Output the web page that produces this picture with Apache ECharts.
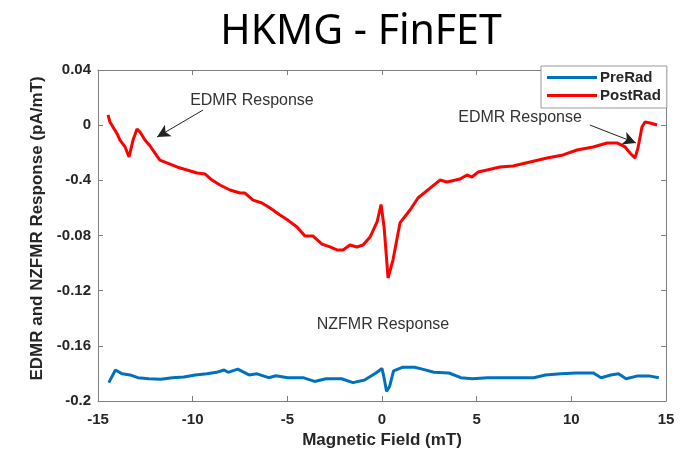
<!DOCTYPE html>
<html>
<head>
<meta charset="utf-8">
<script src="https://cdn.jsdelivr.net/npm/echarts@6/dist/echarts.min.js"></script>
<style>
  html, body { margin: 0; padding: 0; background: #fff; }
  #chart { width: 685px; height: 455px; }
</style>
</head>
<body>
<div id="chart"></div>
<script>
// Magnetic field sweep (mT) and response (pA/mT) for each measurement
const fieldPre = [-14.43, -14.08, -13.72, -13.31, -12.90, -12.31, -11.68, -11.08, -10.47, -9.86, -9.24, -8.74, -8.34, -8.13, -7.62, -7.02, -6.60, -5.99, -5.60, -4.98, -4.17, -3.56, -2.96, -2.14, -1.53, -0.92, -0.32, 0.00, 0.10, 0.24, 0.40, 0.61, 1.11, 1.72, 2.13, 2.74, 3.54, 4.16, 4.77, 5.58, 6.39, 7.21, 8.02, 8.63, 9.45, 10.25, 11.17, 11.57, 12.09, 12.49, 12.89, 13.51, 14.10, 14.62];
const preRad = [-0.1867, -0.1775, -0.1803, -0.1811, -0.1831, -0.1839, -0.1842, -0.1831, -0.1826, -0.1811, -0.1803, -0.1792, -0.1775, -0.1792, -0.1769, -0.1811, -0.1803, -0.1831, -0.1817, -0.1831, -0.1831, -0.1858, -0.1839, -0.1839, -0.1867, -0.1848, -0.1797, -0.1764, -0.1826, -0.1930, -0.1895, -0.1782, -0.1755, -0.1755, -0.1769, -0.1792, -0.1797, -0.1831, -0.1839, -0.1831, -0.1831, -0.1831, -0.1831, -0.1811, -0.1803, -0.1797, -0.1797, -0.1831, -0.1811, -0.1803, -0.1839, -0.1818, -0.1818, -0.1831];

const fieldPost = [-14.47, -14.37, -14.21, -14.00, -13.84, -13.57, -13.36, -13.15, -12.94, -12.78, -12.52, -12.25, -11.99, -11.73, -11.36, -10.83, -10.30, -9.77, -9.35, -8.98, -8.56, -8.03, -7.50, -7.24, -6.81, -6.34, -5.91, -5.39, -4.96, -4.49, -4.07, -3.64, -3.17, -2.75, -2.38, -2.06, -1.69, -1.32, -1.00, -0.63, -0.26, -0.05, 0.11, 0.32, 0.58, 0.95, 1.48, 1.90, 2.54, 3.06, 3.43, 4.12, 4.49, 4.75, 5.07, 5.55, 6.23, 6.92, 7.82, 8.72, 9.56, 10.30, 11.15, 11.89, 12.41, 12.84, 13.10, 13.36, 13.52, 13.73, 13.89, 14.16, 14.53];
const postRad = [0.0074, 0.0023, -0.0013, -0.0060, -0.0108, -0.0158, -0.0231, -0.0108, -0.0028, -0.0050, -0.0108, -0.0151, -0.0202, -0.0253, -0.0274, -0.0303, -0.0325, -0.0347, -0.0354, -0.0398, -0.0434, -0.0470, -0.0492, -0.0492, -0.0543, -0.0564, -0.0601, -0.0651, -0.0690, -0.0738, -0.0804, -0.0804, -0.0862, -0.0883, -0.0905, -0.0905, -0.0869, -0.0883, -0.0869, -0.0811, -0.0702, -0.0575, -0.0738, -0.1108, -0.0978, -0.0709, -0.0615, -0.0528, -0.0456, -0.0398, -0.0412, -0.0390, -0.0361, -0.0376, -0.0340, -0.0325, -0.0303, -0.0296, -0.0267, -0.0238, -0.0216, -0.0180, -0.0158, -0.0129, -0.0129, -0.0158, -0.0202, -0.0238, -0.0166, -0.0013, 0.0023, 0.0016, 0.0001];

// Tick labels, bottom to top, as printed on the y axis
const yTickLabels = ['-0.2', '-0.16', '-0.12', '-0.08', '-0.4', '0', '0.04'];
const xTickLabels = ['-15', '-10', '-5', '0', '5', '10', '15'];

const seriesNames = ['PreRad', 'PostRad'];

// Callouts: text anchor and arrow tail/head, in axis units
const calloutLeft = { text: 'EDMR Response', at: [-6.87, 0.0175], tail: [-9.45, 0.011], head: [-11.88, -0.0086] };
const calloutRight = { text: 'EDMR Response', at: [7.29, 0.0052], tail: [10.98, 0.0001], head: [13.41, -0.0129] };
const calloutNz = { text: 'NZFMR Response', at: [0.05, -0.1449] };

const X_MIN = -15, X_MAX = 15, X_STEP = 5;
const Y_MIN = -0.2, Y_MAX = 0.04, Y_STEP = 0.04;

const pair = (xs, ys) => xs.map((x, i) => [x, ys[i]]);

const tickFont = { fontFamily: 'Liberation Sans', fontWeight: 'bold', fontSize: 15, color: '#262626' };
const nameFont = { fontFamily: 'Liberation Sans', fontWeight: 'bold', fontSize: 17, color: '#262626' };
const frameLine = { show: true, onZero: false, lineStyle: { color: '#808080', width: 1 } };
const innerTick = { show: true, inside: true, length: 5, lineStyle: { color: '#808080' } };

const calloutPoint = c => ({
  coord: c.at,
  symbol: 'rect', symbolSize: 1,
  itemStyle: { color: 'rgba(0,0,0,0)' },
  label: {
    show: true, position: 'inside', formatter: c.text,
    fontFamily: 'Liberation Sans', fontSize: 16, color: '#333'
  }
});

const chart = echarts.init(document.getElementById('chart'), null, { renderer: 'canvas' });

chart.setOption({
  backgroundColor: '#ffffff',
  animation: false,
  title: {
    text: 'HKMG - FinFET',
    left: 356, top: 7, textAlign: 'center',
    textStyle: { fontFamily: 'Noto Sans', fontWeight: 'normal', fontSize: 41, color: '#000' }
  },
  legend: {
    orient: 'vertical',
    left: 541, top: 66,
    data: seriesNames,
    icon: 'rect',
    itemWidth: 50, itemHeight: 3, itemGap: 3,
    padding: [4, 6, 5, 6],
    borderColor: '#999', borderWidth: 1,
    backgroundColor: '#fff',
    textStyle: { fontFamily: 'Liberation Sans', fontWeight: 'bold', fontSize: 15, color: '#262626', padding: [0, 0, 0, -2] }
  },
  grid: { left: 98, right: 19, top: 70, bottom: 54, containLabel: false },
  xAxis: [
    {
      type: 'value', min: X_MIN, max: X_MAX, interval: X_STEP,
      name: 'Magnetic Field (mT)', nameLocation: 'middle', nameGap: 29,
      nameTextStyle: nameFont,
      axisLine: frameLine, axisTick: innerTick,
      axisLabel: Object.assign({ margin: 11, formatter: v => xTickLabels[Math.round((v - X_MIN) / X_STEP)] }, tickFont),
      splitLine: { show: false }
    },
    {
      type: 'value', position: 'top', min: X_MIN, max: X_MAX, interval: X_STEP,
      axisLine: frameLine, axisTick: innerTick, axisLabel: { show: false }, splitLine: { show: false }
    }
  ],
  yAxis: [
    {
      type: 'value', min: Y_MIN, max: Y_MAX, interval: Y_STEP,
      name: 'EDMR and NZFMR Response (pA/mT)', nameLocation: 'middle', nameGap: 47,
      nameTextStyle: Object.assign({ padding: [0, 0, 0, 14] }, nameFont),
      axisLine: frameLine, axisTick: innerTick,
      axisLabel: Object.assign({ margin: 7, formatter: v => yTickLabels[Math.round((v - Y_MIN) / Y_STEP)] }, tickFont),
      splitLine: { show: false }
    },
    {
      type: 'value', position: 'right', min: Y_MIN, max: Y_MAX, interval: Y_STEP,
      axisLine: frameLine, axisTick: innerTick, axisLabel: { show: false }, splitLine: { show: false }
    }
  ],
  series: [
    {
      name: seriesNames[0], type: 'line', xAxisIndex: 0, yAxisIndex: 0,
      data: pair(fieldPre, preRad),
      symbol: 'none', smooth: false,
      lineStyle: { color: '#0072BD', width: 3 }, itemStyle: { color: '#0072BD' },
      markPoint: { silent: true, data: [calloutPoint(calloutNz)] }
    },
    {
      name: seriesNames[1], type: 'line', xAxisIndex: 0, yAxisIndex: 0,
      data: pair(fieldPost, postRad),
      symbol: 'none', smooth: false,
      lineStyle: { color: '#FF0000', width: 3 }, itemStyle: { color: '#FF0000' },
      markPoint: { silent: true, data: [calloutPoint(calloutLeft), calloutPoint(calloutRight)] },
      markLine: {
        silent: true,
        symbol: ['none', 'arrow'], symbolSize: [10, 13],
        label: { show: false },
        lineStyle: { color: '#222', width: 1, type: 'solid' },
        data: [
          [{ coord: calloutLeft.tail }, { coord: calloutLeft.head }],
          [{ coord: calloutRight.tail }, { coord: calloutRight.head }]
        ]
      }
    }
  ]
});
</script>
</body>
</html>
